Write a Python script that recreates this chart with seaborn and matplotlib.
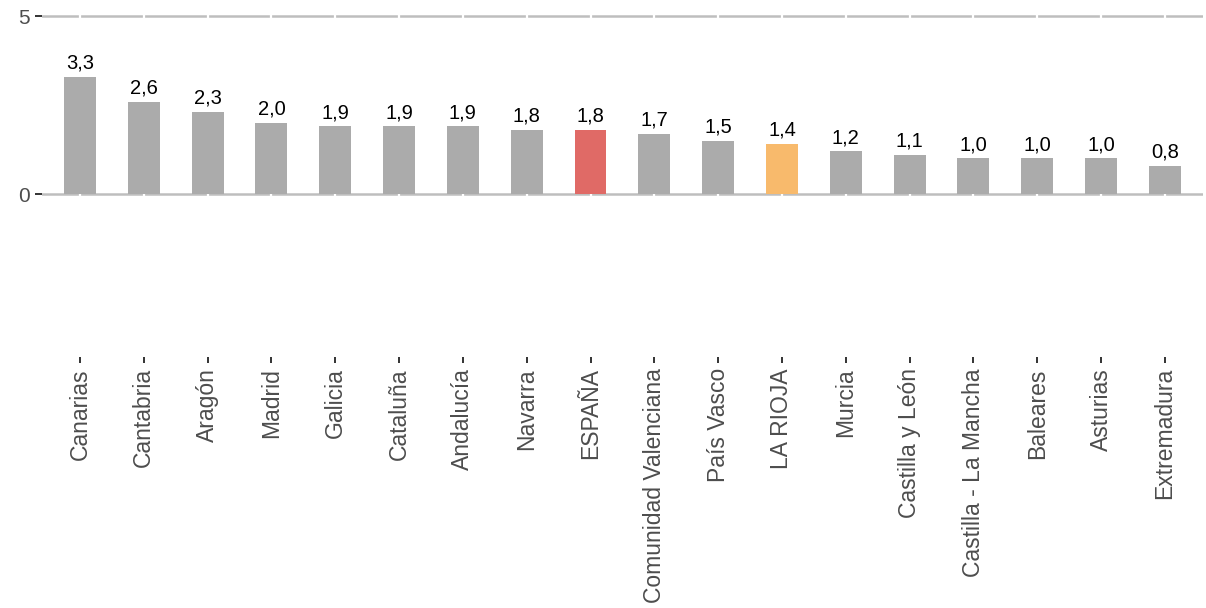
import matplotlib
matplotlib.use("Agg")
import matplotlib.pyplot as plt
import seaborn as sns
import pandas as pd

categories = ["Canarias", "Cantabria", "Aragón", "Madrid", "Galicia", "Cataluña",
              "Andalucía", "Navarra", "ESPAÑA", "Comunidad Valenciana", "País Vasco",
              "LA RIOJA", "Murcia", "Castilla y León", "Castilla - La Mancha",
              "Baleares", "Asturias", "Extremadura"]
values = [3.3, 2.6, 2.3, 2.0, 1.9, 1.9, 1.9, 1.8, 1.8, 1.7, 1.5, 1.4, 1.2, 1.1,
          1.0, 1.0, 1.0, 0.8]
y_ticks = [0, 5]

GRAY = "#ABABAB"
RED = "#E06A66"
ORANGE = "#F8BA6C"
palette = {c: GRAY for c in categories}
palette["ESPAÑA"] = RED
palette["LA RIOJA"] = ORANGE

df = pd.DataFrame({"region": categories, "value": values})

sns.set_style("white")
plt.rcParams["font.family"] = ["Liberation Sans", "DejaVu Sans"]

fig = plt.figure(figsize=(12.06, 6.08), dpi=100)
ax = fig.add_axes([0.0346, 0.4128, 0.963, 0.5724])

# horizontal gridlines
for t in y_ticks:
    ax.axhline(t, color="#BEBEBE", lw=1.8, zorder=0)
# white vertical gridlines at category positions
for i in range(len(categories)):
    ax.axvline(i, color="white", lw=1.6, zorder=0.5)

sns.barplot(data=df, x="region", y="value", hue="region", palette=palette,
            order=categories, hue_order=categories, width=0.5, legend=False,
            saturation=1, linewidth=0, edgecolor="none", ax=ax, zorder=2)

for i, v in enumerate(values):
    ax.text(i, v + 0.12, f"{v:.1f}".replace(".", ","), ha="center", va="bottom",
            fontsize=14.5, color="black", zorder=3)

ax.set_xlim(-0.6, len(categories) - 0.4)
ax.set_ylim(-4.58, 5.2)
ax.set_yticks(y_ticks)
ax.set_yticklabels([str(t) for t in y_ticks])
ax.set_xlabel("")
ax.set_ylabel("")
for s in ax.spines.values():
    s.set_visible(False)

ax.tick_params(axis="y", which="both", left=True, length=5, width=1.4,
               color="#333333", labelcolor="#4D4D4D", labelsize=15, pad=3.5)
ax.tick_params(axis="x", which="both", bottom=True, length=4, width=1.4,
               color="#333333", labelcolor="#4D4D4D", labelsize=16.5, pad=4)
plt.setp(ax.get_xticklabels(), rotation=90, ha="center", va="top")

fig.savefig("out.png", dpi=100)
